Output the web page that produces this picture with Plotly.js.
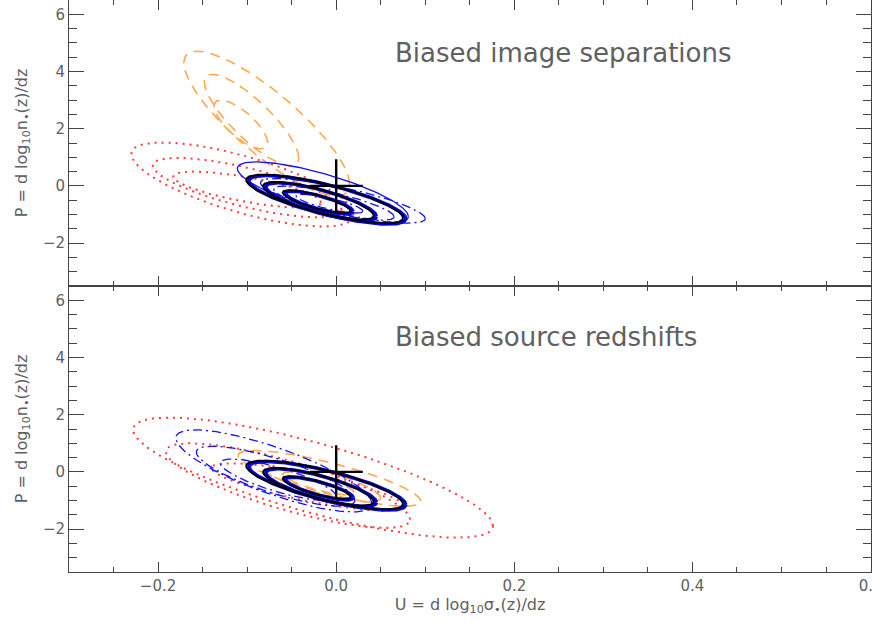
<!DOCTYPE html>
<html>
<head>
<meta charset="utf-8" />
<title>Biased image separations / source redshifts</title>
<script src="https://cdn.plot.ly/plotly-3.0.1.min.js"></script>
<style>
  body { margin: 0; background: #fff; }
  #plot { width: 872px; height: 623px; }
</style>
</head>
<body>
<div id="plot"></div>
<script>
// contour ellipses: centre (U, P), half extent in U and P, correlation
// reference (unbiased) contours, same in both panels
const blackU   = [-0.022, -0.020, -0.013];
const blackP   = [-0.55, -0.52, -0.455];
const blackSU  = [0.038, 0.062, 0.088];
const blackSP  = [0.40, 0.66, 0.85];
const blackRho = [-0.80, -0.78, -0.78];

// top panel: biased image separations
const topRedU   = [-0.105, -0.100, -0.100];
const topRedP   = [0.05, -0.06, -0.13];
const topRedSU  = [0.125, 0.106, 0.083];
const topRedSP  = [1.47, 1.04, 0.63];
const topRedRho = [-0.72, -0.74, -0.72];

const topOrangeU   = [-0.078, -0.095, -0.107];
const topOrangeP   = [2.18, 2.30, 2.15];
const topOrangeSU  = [0.093, 0.053, 0.030];
const topOrangeSP  = [2.53, 1.60, 0.85];
const topOrangeRho = [-0.84, -0.83, -0.75];

const topDashDotU   = [0.0075, -0.0025, -0.0075];
const topDashDotP   = [-0.52, -0.60, -0.62];
const topDashDotSU  = [0.0925, 0.0675, 0.0375];
const topDashDotSP  = [0.78, 0.60, 0.33];
const topDashDotRho = [-0.80, -0.80, -0.80];

const topBlueU   = [-0.015];
const topBlueP   = [-0.23];
const topBlueSU  = [0.096];
const topBlueSP  = [1.07];
const topBlueRho = [-0.78];

// bottom panel: biased source redshifts
const botRedU   = [-0.026, -0.054, -0.0325];
const botRedP   = [-0.20, -0.48, -0.525];
const botRedSU  = [0.202, 0.137, 0.1075];
const botRedSP  = [2.10, 1.48, 0.825];
const botRedRho = [-0.80, -0.80, -0.80];

const botOrangeU   = [-0.0075, -0.0175, -0.020];
const botOrangeP   = [-0.225, -0.35, -0.40];
const botOrangeSU  = [0.1025, 0.0675, 0.040];
const botOrangeSP  = [0.975, 0.70, 0.40];
const botOrangeRho = [-0.82, -0.80, -0.80];

const botDashDotU   = [-0.070, -0.068, -0.065];
const botDashDotP   = [0.035, -0.15, -0.275];
const botDashDotSU  = [0.110, 0.089, 0.065];
const botDashDotSP  = [1.435, 1.05, 0.725];
const botDashDotRho = [-0.80, -0.80, -0.80];

// fiducial model
const crossU = [0];
const crossP = [0];

const tickVals = [-0.2, 0.0, 0.2, 0.4, 0.6];

function ellipse(cu, cp, su, sp, rho) {
  const x = [], y = [];
  const q = Math.sqrt(1 - rho * rho);
  for (let i = 0; i <= 180; i++) {
    const t = 2 * Math.PI * i / 180;
    x.push(cu + su * Math.cos(t));
    y.push(cp + sp * (rho * Math.cos(t) + q * Math.sin(t)));
  }
  return {x: x, y: y};
}

function contours(U, P, SU, SP, R, xa, ya, line, shift) {
  shift = shift || [0, 0];
  return U.map(function (u, i) {
    const e = ellipse(u + shift[0], P[i] + shift[1], SU[i], SP[i], R[i]);
    return {x: e.x, y: e.y, xaxis: xa, yaxis: ya, type: 'scatter', mode: 'lines',
            line: line, hoverinfo: 'skip', showlegend: false};
  });
}

const red = {color: '#ff3b3b', width: 2, dash: '2px,5px'};
const orange = {color: '#ffa850', width: 1.6, dash: '10px,7px'};
const dashdot = {color: '#1010ff', width: 1.3, dash: '9px,4px,2px,4px'};
const thinBlue = {color: '#1010ff', width: 1.3};
const thickBlue = {color: '#0000e0', width: 3.6};
const thickBlack = {color: '#000000', width: 2};

function panel(xa, ya, red1, orange1, dd1, thin1) {
  let tr = [];
  tr = tr.concat(contours(...red1, xa, ya, red));
  tr = tr.concat(contours(...orange1, xa, ya, orange));
  tr = tr.concat(contours(...dd1, xa, ya, dashdot));
  if (thin1) tr = tr.concat(contours(...thin1, xa, ya, thinBlue));
  tr = tr.concat(contours(blackU, blackP, blackSU, blackSP, blackRho, xa, ya, thickBlue, [0.003, -0.03]));
  tr = tr.concat(contours(blackU, blackP, blackSU, blackSP, blackRho, xa, ya, thickBlack));
  tr.push({x: crossU, y: crossP, xaxis: xa, yaxis: ya, type: 'scatter', mode: 'markers',
           marker: {symbol: 'cross-thin', size: 38, line: {color: '#000', width: 2.4}},
           hoverinfo: 'skip', showlegend: false});
  return tr;
}

const traces = []
  .concat(panel('x2', 'y2',
    [topRedU, topRedP, topRedSU, topRedSP, topRedRho],
    [topOrangeU, topOrangeP, topOrangeSU, topOrangeSP, topOrangeRho],
    [topDashDotU, topDashDotP, topDashDotSU, topDashDotSP, topDashDotRho],
    [topBlueU, topBlueP, topBlueSU, topBlueSP, topBlueRho]))
  .concat(panel('x', 'y',
    [botRedU, botRedP, botRedSU, botRedSP, botRedRho],
    [botOrangeU, botOrangeP, botOrangeSU, botOrangeSP, botOrangeRho],
    [botDashDotU, botDashDotP, botDashDotSU, botDashDotSP, botDashDotRho],
    null));

const axisColor = '#444';
const xBase = {
  range: [-0.3, 0.6005], tickvals: tickVals, tickformat: '.1f', ticklabeloverflow: 'allow',
  ticks: 'inside', ticklen: 10, tickwidth: 1, tickcolor: axisColor,
  minor: {dtick: 0.05, tick0: 0, ticks: 'inside', ticklen: 5, tickcolor: axisColor},
  showline: true, linecolor: axisColor, linewidth: 1, mirror: 'ticks',
  showgrid: false, zeroline: false
};
const yBase = {
  range: [-3.5, 6.5], dtick: 2, tick0: 0,
  ticks: 'inside', ticklen: 15, tickwidth: 1, tickcolor: axisColor,
  minor: {dtick: 0.5, tick0: 0, ticks: 'inside', ticklen: 8, tickcolor: axisColor},
  showline: true, linecolor: axisColor, linewidth: 1, mirror: 'ticks',
  showgrid: false, zeroline: false,
  title: {text: 'P = d log<sub>10</sub>n<sub>•</sub>(z)/dz', font: {size: 16}}
};

const layout = {
  width: 872, height: 623,
  margin: {l: 69, r: 1, t: 0, b: 51},
  paper_bgcolor: '#fff', plot_bgcolor: '#fff',
  font: {family: 'DejaVu Sans, sans-serif', color: '#606060', size: 15},
  showlegend: false,
  xaxis: Object.assign({}, xBase, {anchor: 'y',
    title: {text: 'U = d log<sub>10</sub>σ<sub>•</sub>(z)/dz', font: {size: 16}, standoff: 4}}),
  xaxis2: Object.assign({}, xBase, {anchor: 'y2', matches: 'x', showticklabels: false}),
  yaxis: Object.assign({}, yBase, {domain: [0, 0.5], anchor: 'x'}),
  yaxis2: Object.assign({}, yBase, {domain: [0.5, 1], anchor: 'x2'}),
  annotations: [
    {text: 'Biased image separations', xref: 'paper', yref: 'paper', x: 0.404, y: 0.907,
     xanchor: 'left', yanchor: 'middle', showarrow: false, font: {size: 26, color: '#606060'}},
    {text: 'Biased source redshifts', xref: 'paper', yref: 'paper', x: 0.404, y: 0.411,
     xanchor: 'left', yanchor: 'middle', showarrow: false, font: {size: 26, color: '#606060'}}
  ]
};

Plotly.newPlot('plot', traces, layout, {staticPlot: true, displayModeBar: false});
</script>
</body>
</html>
